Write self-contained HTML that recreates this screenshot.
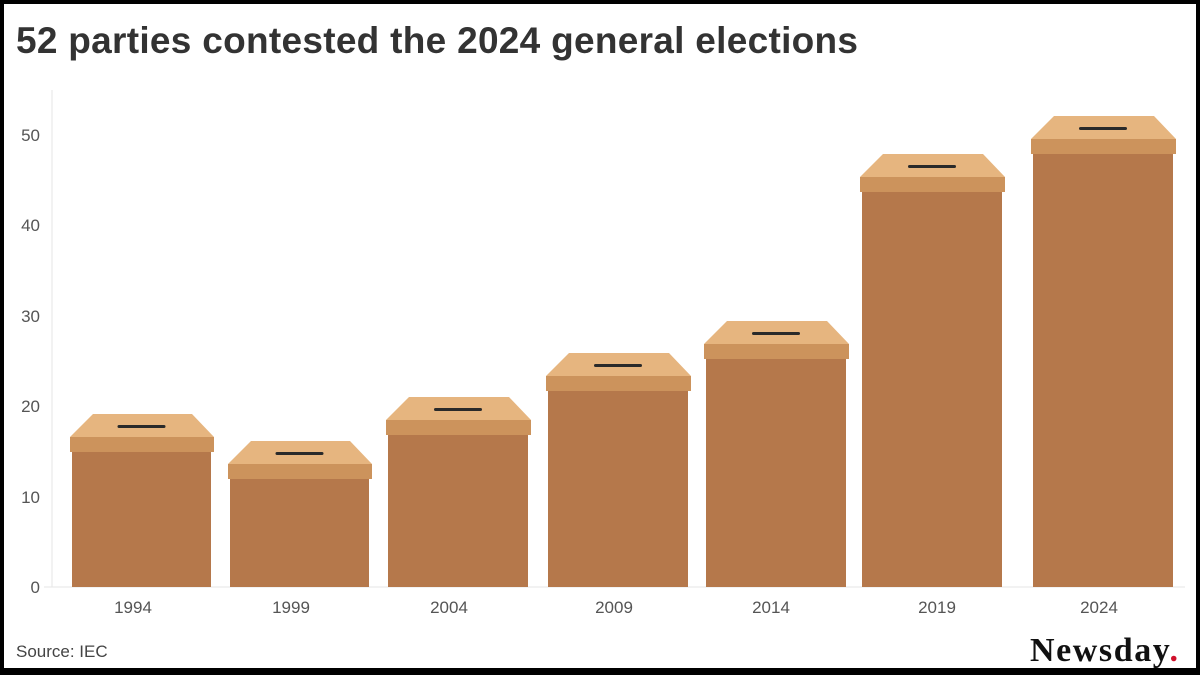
<!DOCTYPE html>
<html><head><style>
body{margin:0;background:#fff;}
.f{position:absolute;left:0;top:0;width:1200px;height:675px;box-sizing:border-box;border:4px solid #000;border-bottom-width:7px;overflow:hidden;background:#fff;font-family:"Liberation Sans",sans-serif;}
</style></head><body>
<div class="f">
<svg width="1200" height="675" style="position:absolute;left:-4px;top:-4px" font-family="Liberation Sans, sans-serif">
<text x="16" y="53" font-size="37" font-weight="bold" fill="#333" textLength="842">52 parties contested the 2024 general elections</text>
<line x1="52" y1="90" x2="52" y2="587" stroke="#e6e6e6"/>
<g stroke="#e6e6e6"><line x1="44" y1="587" x2="1185" y2="587"/></g>
<g font-size="17" fill="#555" text-anchor="end">
<text x="40" y="593">0</text><text x="40" y="503">10</text><text x="40" y="412">20</text><text x="40" y="322">30</text><text x="40" y="231">40</text><text x="40" y="141">50</text>
</g>
<g font-size="17" fill="#555" text-anchor="middle">
<text x="133" y="613">1994</text><text x="291" y="613">1999</text><text x="449" y="613">2004</text><text x="614" y="613">2009</text><text x="771" y="613">2014</text><text x="937" y="613">2019</text><text x="1099" y="613">2024</text>
</g>
<g id="boxes"></g>
<text x="16" y="657" font-size="17" fill="#444">Source: IEC</text>
<text x="1030" y="661" font-size="34" font-weight="bold" fill="#111" font-family="Liberation Serif, serif" textLength="148">Newsday<tspan fill="#d0102b">.</tspan></text>
</svg>
</div>
<script>
var d=[[72,211,414],[230,369,441],[388,528,397],[548,688,353],[706,846,321],[862,1002,154],[1033,1173,116]];
var s='';d.forEach(function(b){var l=b[0],r=b[1],t=b[2],w=r-l,c=(l+r)/2;
s+='<rect x="'+l+'" y="'+(t+38)+'" width="'+w+'" height="'+(587-t-38)+'" fill="#b5784b"/>';
s+='<polygon points="'+(l+21)+','+t+' '+(r-19)+','+t+' '+(r+3)+','+(t+23)+' '+(l-2)+','+(t+23)+'" fill="#e6b57f"/>';
s+='<rect x="'+(l-2)+'" y="'+(t+23)+'" width="'+(w+5)+'" height="15" fill="#cc935c"/>';
s+='<rect x="'+(c-24)+'" y="'+(t+11)+'" width="48" height="3" rx="1.5" fill="#2a2a2a"/>';});
document.getElementById('boxes').innerHTML=s;
</script>
</body></html>
